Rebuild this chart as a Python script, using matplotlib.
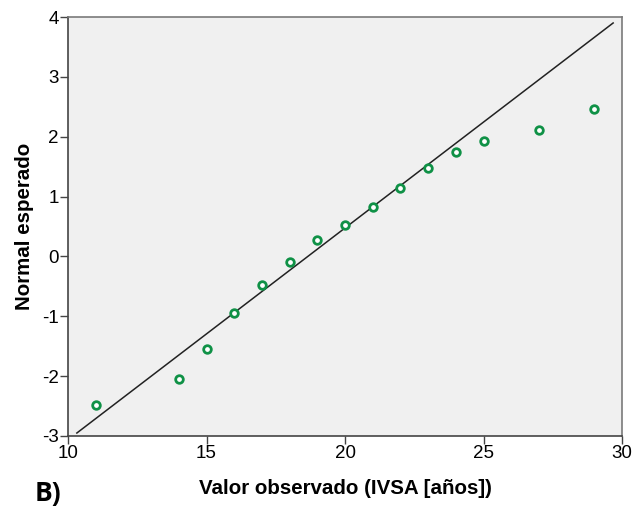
import matplotlib
matplotlib.use("Agg")
import matplotlib.pyplot as plt

# Data
observed = [11, 14, 15, 16, 17, 18, 19, 20, 21, 22, 23, 24, 25, 27, 29]
expected = [-2.48, -2.05, -1.55, -0.95, -0.48, -0.09, 0.27, 0.53, 0.82, 1.15, 1.47, 1.74, 1.93, 2.12, 2.47]
line_x = [10.32, 29.68]
line_y = [-2.95, 3.90]
x_ticks = [10, 15, 20, 25, 30]
y_ticks = [-3, -2, -1, 0, 1, 2, 3, 4]

plt.rcParams['font.family'] = ['Liberation Sans', 'DejaVu Sans']
plt.rcParams['axes.unicode_minus'] = False

fig = plt.figure(figsize=(6.4, 5.13), dpi=100)
ax = fig.add_axes([68/640, 77/513, (622-68)/640, (436-17)/513])
ax.set_facecolor('#f0f0f0')

ax.plot(line_x, line_y, color='#222222', lw=1.1, zorder=2)
ax.scatter(observed, expected, s=30, facecolors='white', edgecolors='#0f9146',
           linewidths=2.0, zorder=3)

ax.set_xlim(10, 30)
ax.set_ylim(-3, 4)
ax.set_xticks(x_ticks)
ax.set_yticks(y_ticks)
ax.tick_params(axis='both', labelsize=13.5, length=6, width=1, color='#444444', pad=0.5)
for lbl in ax.get_xticklabels() + ax.get_yticklabels():
    lbl.set_clip_on(False)

for s in ['left', 'bottom']:
    ax.spines[s].set_color('#444444')
    ax.spines[s].set_linewidth(1.2)
for s in ['top', 'right']:
    ax.spines[s].set_color('#7a7a7a')
    ax.spines[s].set_linewidth(1.2)

ax.set_xlabel('Valor observado (IVSA [años])', fontsize=14.8, fontweight='bold', labelpad=12)
ax.set_ylabel('Normal esperado', fontsize=14.8, fontweight='bold', labelpad=6)

fig.text(35/640, 1 - 493/513, 'B)', fontsize=19, fontweight='bold', family='Open Sans',
         ha='left', va='center')

fig.savefig('out.png', dpi=100)
